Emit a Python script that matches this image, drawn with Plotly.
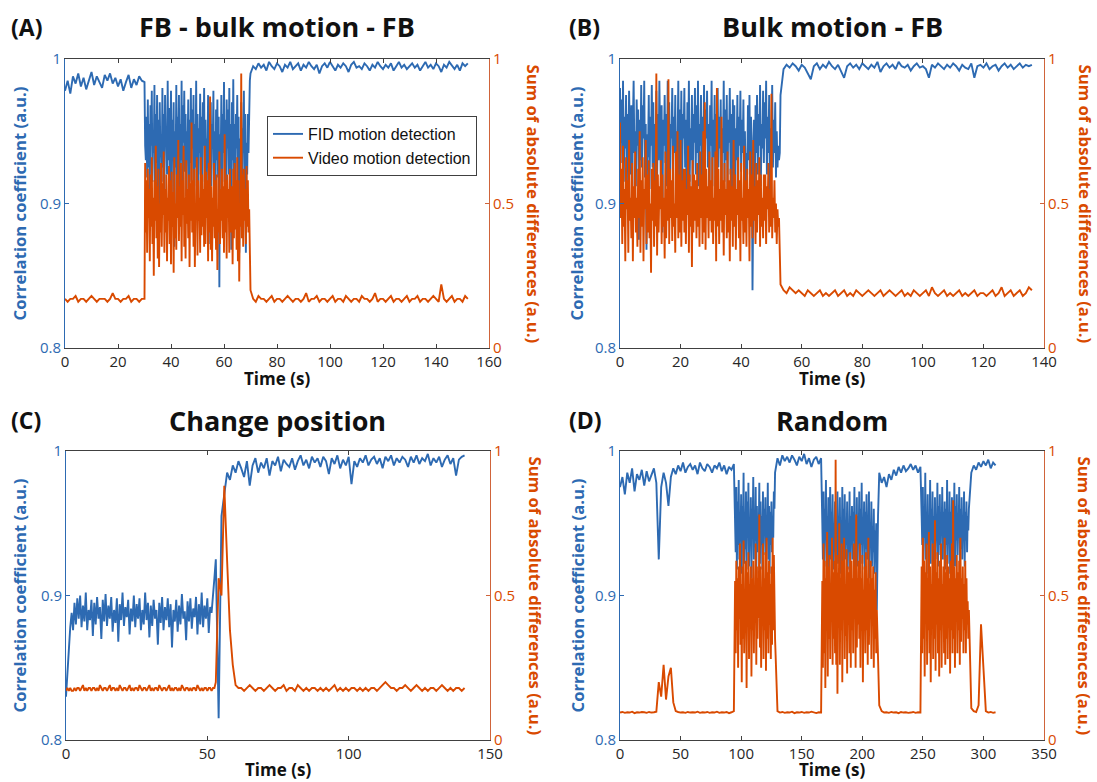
import numpy as np
import plotly.graph_objects as go

# ---------------- data ----------------
# corr_* : correlation coefficient in units of 0.001
# sad_*  : sum of absolute differences in units of 0.01 (panel D: 0.001)


def grid(start, stop, step):
    """sample times of one acquisition segment (inclusive)"""
    return list(np.round(np.arange(start, stop + step / 2, step), 3))


# Panel A: FB - bulk motion - FB
time_a = grid(0, 30, 1) + grid(30.25, 69.75, 0.25) + grid(70, 152, 1)
corr_a = [978, 985, 976, 988, 983, 990, 981, 987, 979, 986,
          991, 982, 988, 984, 980, 989, 985, 990, 983, 987,
          981, 986, 978, 984, 989, 980, 986, 982, 988, 985, 984,
          # motion (0.25 s)
          940, 930, 960, 918, 972, 925, 955, 905, 968, 940,
          978, 915, 950, 935, 982, 900, 962, 928, 975, 910,
          958, 888, 970, 932, 948, 915, 980, 925, 962, 902,
          975, 940, 952, 920, 985, 930, 966, 912, 945, 978,
          900, 958, 935, 970, 870, 950, 925, 982, 918, 960,
          940, 975, 895, 955, 930, 985, 910, 968, 942, 978,
          922, 962, 905, 950, 935, 972, 880, 958, 928, 980,
          915, 965, 938, 975, 898, 955, 925, 985, 912, 962,
          890, 952, 935, 976, 920, 960, 908, 970, 940, 980,
          915, 958, 898, 945, 932, 975, 872, 962, 925, 970,
          912, 955, 938, 978, 902, 950, 885, 965, 930, 972,
          918, 960, 842, 948, 928, 975, 905, 962, 935, 984,
          915, 958, 892, 972, 938, 965, 920, 980, 905, 955,
          868, 970, 930, 986, 912, 955, 900, 962, 938, 975,
          925, 960, 866, 945, 918, 970, 908, 952, 935, 978,
          900, 962, 866, 942, 920, 962, 935, 975, 985,
          # after motion
          990, 995, 993, 997, 994, 996, 992, 998, 995, 993,
          997, 995, 991, 996, 994, 998, 993, 995, 997, 992,
          996, 994, 998, 995, 993, 996, 990, 995, 997, 994,
          998, 995, 992, 996, 994, 997, 995, 991, 996, 998,
          994, 995, 993, 997, 995, 992, 996, 994, 998, 995,
          993, 996, 994, 997, 992, 995, 998, 994, 996, 993,
          995, 997, 994, 996, 992, 995, 998, 994, 996, 993,
          997, 995, 991, 996, 994, 998, 995, 993, 996, 992,
          997, 995, 997]
sad_a = [17, 16, 17, 17, 18, 16, 17, 17, 16, 17,
         18, 17, 16, 17, 17, 17, 16, 17, 19, 17,
         17, 16, 17, 17, 18, 16, 17, 17, 16, 17, 17,
         # motion (0.25 s)
         64, 40, 58, 33, 62, 45, 55, 30, 60, 42,
         66, 36, 52, 25, 58, 44, 70, 38, 56, 31,
         62, 28, 50, 40, 64, 35, 57, 46, 68, 33,
         55, 40, 60, 30, 52, 44, 63, 36, 58, 29,
         61, 42, 54, 26, 66, 38, 50, 34, 60, 45,
         72, 37, 56, 42, 64, 30, 58, 46, 70, 35,
         52, 31, 65, 43, 55, 38, 60, 28, 57, 44,
         78, 40, 58, 35, 62, 28, 50, 45, 66, 32,
         58, 44, 52, 33, 66, 39, 60, 42, 55, 35,
         70, 36, 61, 45, 58, 30, 64, 40, 87, 34,
         56, 30, 52, 42, 64, 38, 58, 34, 60, 27,
         48, 40, 68, 36, 55, 44, 62, 38, 56, 33,
         74, 40, 58, 31, 60, 45, 55, 33, 62, 40,
         45, 56, 29, 62, 38, 64, 41, 58, 34, 66,
         30, 58, 23, 50, 42, 95, 38, 60, 35, 62,
         44, 55, 36, 63, 42, 58, 40, 48, 30,
         # after motion
         20, 17, 16, 18, 17, 17, 16, 17, 18, 16,
         17, 17, 16, 17, 18, 17, 16, 17, 17, 16,
         17, 19, 16, 17, 17, 18, 16, 17, 17, 16,
         17, 18, 16, 17, 17, 16, 18, 17, 16, 17,
         17, 16, 18, 17, 17, 16, 17, 19, 16, 17,
         17, 16, 17, 18, 16, 17, 17, 16, 17, 18,
         16, 17, 17, 18, 16, 17, 17, 16, 17, 18,
         17, 16, 22, 17, 16, 17, 18, 16, 17, 17,
         16, 18, 17]

# Panel B: Bulk motion - FB
time_b = grid(0, 52.75, 0.25) + grid(53, 136, 1)
corr_b = [980, 942, 972, 928, 985, 915, 960, 938, 975, 905,
          962, 930, 978, 945, 920, 968, 890, 955, 985, 935,
          950, 912, 972, 940, 965, 875, 958, 930, 982, 925,
          968, 945, 985, 918, 955, 868, 948, 932, 975, 910,
          960, 940, 982, 925, 970, 900, 955, 938, 978, 915,
          962, 930, 985, 945, 920, 968, 880, 958, 940, 975,
          928, 962, 912, 985, 938, 970, 905, 955, 945, 980,
          922, 960, 935, 975, 900, 950, 940, 985, 915, 965,
          932, 978, 908, 962, 945, 980, 925, 958, 895, 970,
          938, 985, 915, 952, 930, 975, 905, 962, 942, 980,
          920, 968, 935, 985, 912, 955, 940, 975, 900, 960,
          930, 982, 918, 965, 945, 978, 925, 955, 888, 968,
          940, 985, 912, 958, 932, 975, 905, 962, 945, 980,
          925, 960, 938, 972, 898, 952, 935, 985, 915, 965,
          930, 975, 910, 958, 942, 980, 920, 962, 895, 972,
          938, 968, 888, 952, 930, 975, 915, 960, 940, 978,
          922, 958, 935, 972, 905, 950, 905, 935, 920, 968,
          930, 975, 912, 960, 945, 840, 918, 958, 902, 968,
          935, 975, 920, 962, 940, 982, 912, 955, 938, 978,
          928, 970, 945, 985, 920, 960, 935, 975, 910, 952,
          940, 982, 925, 958, 935, 970, 918, 950, 925, 940,
          930, 935,
          # after motion
          975, 993, 996, 994, 997, 995, 992,
          996, 994, 990, 986, 995, 997, 993, 996, 994, 998,
          995, 993, 996, 992, 987, 995, 997, 994, 996, 993,
          997, 995, 993, 996, 994, 998, 991, 995, 997, 994,
          996, 993, 998, 995, 994, 996, 992, 995, 997, 994,
          995, 993, 987, 996, 994, 997, 995, 993, 996, 994,
          997, 995, 992, 996, 994, 993, 997, 987, 995, 996,
          994, 997, 993, 995, 996, 992, 995, 997, 994, 996,
          993, 995, 997, 994, 996, 995, 996]
sad_b = [78, 45, 62, 36, 70, 42, 55, 30, 66, 48,
         58, 33, 72, 44, 52, 38, 64, 30, 56, 45,
         68, 40, 52, 35, 62, 45, 75, 33, 58, 42,
         66, 30, 55, 48, 72, 36, 60, 40, 65, 38,
         50, 26, 62, 44, 64, 35, 58, 42, 95, 32,
         60, 40, 56, 48, 65, 36, 60, 42, 52, 31,
         68, 38, 55, 44, 93, 36, 62, 45, 58, 37,
         70, 42, 50, 33, 68, 45, 75, 38, 60, 40,
         72, 35, 58, 44, 62, 40, 62, 36, 55, 46,
         70, 33, 60, 42, 56, 28, 65, 40, 60, 44,
         58, 38, 64, 42, 55, 35, 68, 45, 60, 36,
         75, 40, 85, 34, 62, 45, 56, 38, 68, 44,
         58, 40, 66, 36, 52, 44, 68, 30, 90, 42,
         62, 36, 55, 44, 80, 40, 58, 32, 64, 46,
         55, 38, 68, 40, 58, 30, 62, 44, 56, 35,
         72, 42, 60, 34, 55, 46, 66, 38, 58, 30,
         64, 44, 52, 36, 70, 40, 58, 35, 62, 45,
         55, 30, 68, 42, 60, 38, 72, 44, 56, 36,
         64, 40, 58, 46, 66, 35, 60, 42, 52, 38,
         60, 44, 60, 36, 56, 48, 64, 40, 55, 42,
         88, 38, 52, 45, 58, 40, 50, 36, 48, 42,
         45, 30,
         # after motion
         22, 20, 19, 21, 20, 19, 20,
         19, 18, 20, 19, 18, 19, 20, 18, 19, 18,
         19, 20, 18, 19, 20, 18, 19, 18, 20, 19,
         18, 19, 20, 19, 18, 19, 20, 18, 19, 20,
         19, 18, 19, 20, 18, 19, 18, 20, 19, 18,
         19, 20, 18, 21, 19, 18, 19, 20, 18, 19,
         18, 19, 20, 18, 19, 18, 19, 20, 18, 19,
         19, 18, 19, 20, 18, 19, 21, 18, 19, 20,
         18, 19, 20, 18, 19, 21, 20]

# Panel C: Change position
time_c = grid(0, 52.5, 0.5) + grid(53, 141, 1)
corr_c = [830, 850, 862, 878, 888, 876, 895, 880, 898, 884,
          900, 878, 893, 882, 902, 876, 890, 883, 897, 872,
          895, 880, 899, 884, 892, 870, 897, 882, 901, 879,
          893, 884, 899, 875, 890, 881, 898, 868, 894, 883,
          902, 879, 892, 885, 897, 873, 891, 882, 900, 878,
          894, 884, 898, 876, 890, 880, 902, 883, 895, 871,
          893, 879, 897, 884, 890, 866, 895, 881, 899, 876,
          892, 883, 898, 878, 894, 864, 890, 882, 897, 875,
          893, 880, 901, 884, 889, 869, 896, 882, 898, 877,
          891, 885, 899, 873, 894, 880, 902, 878, 893, 884,
          898, 874, 892, 888, 904, 912,
          # position change and after
          925, 815, 955, 970, 985, 980, 990,
          985, 993, 988, 982, 993, 976, 990, 995, 985, 992,
          988, 995, 983, 993, 990, 996, 986, 994, 991, 989,
          995, 987, 993, 997, 990, 994, 988, 996, 992, 995,
          989, 996, 993, 984, 995, 991, 997, 988, 994, 990,
          996, 977, 993, 989, 995, 992, 997, 990, 994, 996,
          991, 995, 988, 996, 993, 997, 990, 995, 992, 996,
          994, 989, 996, 992, 997, 991, 995, 993, 998, 990,
          995, 992, 996, 989, 994, 997, 991, 995, 983, 994,
          996, 997]
sad_c = [17, 18, 17, 18, 17, 17, 18, 17, 18, 18,
         17, 18, 19, 17, 18, 17, 18, 18, 17, 18,
         18, 17, 18, 17, 19, 18, 17, 18, 18, 17,
         18, 19, 17, 18, 18, 17, 18, 17, 19, 18,
         17, 18, 18, 17, 18, 19, 17, 18, 17, 18,
         18, 17, 19, 18, 17, 18, 18, 17, 18, 19,
         17, 18, 17, 18, 18, 17, 19, 18, 17, 18,
         18, 17, 18, 19, 17, 18, 17, 18, 18, 17,
         18, 17, 19, 18, 17, 18, 18, 17, 18, 17,
         18, 18, 17, 19, 18, 17, 18, 17, 18, 18,
         17, 18, 18, 17, 18, 18,
         # position change and after
         20, 56, 50, 88, 62, 38, 26,
         19, 18, 18, 17, 18, 19, 18, 17, 18, 18,
         17, 18, 19, 18, 17, 18, 18, 19, 17, 18,
         18, 17, 19, 18, 17, 18, 17, 18, 18, 17,
         18, 17, 18, 17, 18, 19, 17, 18, 17, 18,
         17, 18, 18, 17, 18, 17, 18, 17, 18, 18,
         17, 18, 19, 20, 19, 18, 18, 17, 18, 18,
         19, 18, 17, 18, 19, 18, 17, 18, 17, 18,
         18, 17, 18, 19, 18, 17, 18, 17, 18, 18,
         17, 18]

# Panel D: Random
time_d = (grid(0, 94, 2) + grid(95, 128, 0.5) + grid(130, 166, 2)
          + grid(167, 213, 0.5) + grid(214, 248, 2) + grid(249, 288, 0.5)
          + grid(290, 310, 2))
corr_d = [975, 982, 970, 985, 978, 988, 972, 984, 980, 987,
          976, 986, 979, 983, 988, 978, 925, 975, 985, 978,
          962, 982, 988, 984, 990, 986, 992, 985, 989, 991,
          987, 990, 984, 992, 988, 986, 991, 989, 985, 990,
          988, 992, 986, 990, 984, 989, 987, 991,
          # motion 1
          960, 930, 975, 918, 965, 935, 980, 925, 955, 940,
          970, 915, 962, 938, 985, 922, 958, 932, 972, 918,
          965, 940, 978, 920, 952, 935, 968, 912, 960, 945,
          982, 925, 958, 938, 975, 915, 962, 930, 950, 940,
          978, 922, 965, 935, 955, 918, 972, 928, 960, 942,
          968, 920, 955, 938, 978, 925, 962, 915, 958, 935,
          965, 930, 950, 940, 972, 960, 985,
          995, 990, 997, 993, 996, 992, 997, 994, 990, 996,
          993, 998, 991, 995, 989, 994, 996, 991, 995,
          # motion 2
          950, 925, 972, 915, 960, 940, 980, 920, 955, 932,
          968, 910, 945, 975, 925, 958, 938, 970, 918, 950,
          930, 965, 912, 948, 935, 972, 922, 955, 940, 968,
          915, 952, 930, 975, 920, 960, 938, 970, 925, 950,
          935, 965, 918, 945, 930, 972, 912, 955, 940, 962,
          925, 958, 938, 975, 915, 950, 932, 968, 920, 955,
          940, 972, 915, 960, 935, 978, 922, 952, 938, 965,
          918, 958, 932, 970, 925, 955, 940, 972, 912, 950,
          935, 965, 920, 948, 930, 960, 915, 945, 928, 950,
          890, 930, 955,
          985, 978, 982, 975, 984, 980, 987, 983, 989, 985,
          990, 986, 988, 991, 987, 990, 985, 989,
          # motion 3
          955, 935, 975, 920, 962, 940, 985, 925, 958, 935,
          970, 915, 950, 938, 980, 922, 960, 940, 972, 918,
          955, 932, 968, 925, 950, 940, 978, 920, 962, 935,
          970, 928, 955, 942, 975, 925, 958, 938, 965, 918,
          960, 935, 980, 922, 952, 940, 972, 915, 958, 932,
          968, 925, 955, 945, 978, 920, 962, 938, 970, 928,
          955, 940, 975, 918, 960, 932, 968, 925, 950, 942,
          972, 920, 958, 938, 965, 930, 955, 945, 960,
          985, 990, 987, 992, 989, 993, 990, 994, 988, 992, 990]
sad_d = [95, 97, 94, 96, 95, 98, 93, 96, 95, 97,
         96, 94, 97, 95, 96, 98, 200, 150, 260, 140,
         220, 250, 130, 100, 97, 95, 96, 94, 97, 95,
         96, 95, 98, 94, 96, 95, 97, 94, 96, 95,
         98, 94, 96, 95, 97, 93, 96, 100,
         # motion 1
         550, 300, 620, 380, 560, 250, 600, 420, 680, 330,
         540, 200, 600, 350, 690, 300, 480, 380, 620, 180,
         580, 400, 650, 280, 540, 450, 600, 220, 560, 380,
         620, 300, 520, 430, 680, 260, 600, 350, 560, 420,
         780, 320, 600, 250, 520, 430, 680, 280, 560, 380,
         650, 240, 700, 350, 580, 300, 620, 400, 540, 280,
         600, 330, 700, 380, 640, 450, 350,
         100, 95, 97, 94, 96, 95, 98, 93, 96, 95,
         97, 94, 96, 95, 98, 95, 93, 96, 95,
         # motion 2
         550, 250, 680, 300, 620, 180, 560, 400, 720, 220,
         600, 350, 640, 280, 540, 420, 700, 260, 580, 350,
         620, 300, 970, 260, 640, 160, 580, 420, 750, 260,
         560, 380, 680, 200, 620, 450, 700, 280, 540, 360,
         660, 230, 600, 400, 580, 300, 650, 250, 620, 380,
         560, 300, 680, 420, 600, 250, 780, 320, 560, 400,
         620, 350, 680, 250, 560, 380, 640, 200, 520, 430,
         600, 300, 650, 380, 560, 260, 700, 330, 540, 420,
         620, 280, 560, 400, 600, 250, 520, 350, 580, 300,
         450, 380, 300,
         120, 100, 95, 96, 94, 97, 95, 96, 93, 97,
         95, 96, 94, 95, 97, 94, 96, 95,
         # motion 3
         600, 300, 700, 350, 620, 220, 580, 420, 680, 260,
         560, 380, 720, 300, 600, 200, 540, 420, 680, 280,
         620, 350, 760, 240, 580, 400, 650, 300, 560, 220,
         620, 380, 680, 250, 540, 420, 600, 300, 700, 260,
         580, 350, 640, 280, 600, 400, 560, 230, 620, 380,
         680, 300, 830, 350, 600, 250, 560, 420, 640, 300,
         580, 380, 620, 260, 700, 340, 560, 420, 600, 300,
         540, 380, 620, 300, 560, 400, 480, 350, 450,
         110, 100, 97, 120, 400, 250, 100, 95, 97, 94, 96]

value_scale_corr = [1000.0, 1000.0, 1000.0, 1000.0]
value_scale_sad = [100.0, 100.0, 100.0, 1000.0]

titles = ["FB - bulk motion - FB", "Bulk motion - FB", "Change position", "Random"]
panel_tags = ["(A)", "(B)", "(C)", "(D)"]
x_max = [160, 140, 150, 350]
x_ticks = [[0, 20, 40, 60, 80, 100, 120, 140, 160],
           [0, 20, 40, 60, 80, 100, 120, 140],
           [0, 50, 100, 150],
           [0, 50, 100, 150, 200, 250, 300, 350]]
left_ticks = [0.8, 0.9, 1.0]
left_tick_text = ["0.8", "0.9", "1"]
right_ticks = [0, 0.5, 1]
right_tick_text = ["0", "0.5", "1"]
series_names = ["FID motion detection", "Video motion detection"]
x_title = "Time (s)"
left_title = "Correlation coefficient (a.u.)"
right_title = "Sum of absolute differences (a.u.)"

times = [time_a, time_b, time_c, time_d]
corr_series = [corr_a, corr_b, corr_c, corr_d]
sad_series = [sad_a, sad_b, sad_c, sad_d]
for tt, cc, ss in zip(times, corr_series, sad_series):
    assert len(tt) == len(cc) == len(ss), (len(tt), len(cc), len(ss))

# ---------------- styling ----------------
W, H = 1097, 782
BLUE = "#2D6AB2"
ORANGE = "#D94A00"
ORANGE_AX = "#D0643A"
DARK = "#262626"
AXGREY = "#404040"
FONT = "Open Sans"
LEGEND_FONT = "Liberation Sans"
LW = 1.9

# plot boxes in pixels: (left, right, top, bottom)
boxes = [(65, 489, 59, 348), (620, 1044, 59, 348),
         (66, 490, 451, 740), (620, 1044, 451, 740)]
tag_pos = [(10, 27), (568, 27), (10, 420), (568, 420)]
title_y = [27, 27, 420, 420]
xtitle_y = [379, 379, 769, 769]
ltitle_x = [19, 576, 19, 577]
rtitle_x = [533, 1085, 535, 1084]


def fx(p):
    return p / W


def fy(p):
    return 1 - p / H


fig = go.Figure()
layout = dict(width=W, height=H, autosize=False,
              margin=dict(l=0, r=0, t=0, b=0, pad=0),
              paper_bgcolor="white", plot_bgcolor="white",
              font=dict(family=FONT, color=DARK), showlegend=True)
annotations = []

for i in range(4):
    n = i + 1
    xa = "x" if n == 1 else f"x{n}"
    yl_n = 2 * i + 1
    yr_n = 2 * i + 2
    yl = "y" if yl_n == 1 else f"y{yl_n}"
    yr = f"y{yr_n}"
    L, R, T, B = boxes[i]

    t = np.array(times[i], dtype=float)
    corr = np.array(corr_series[i]) / value_scale_corr[i]
    sad = np.array(sad_series[i]) / value_scale_sad[i]

    fig.add_trace(go.Scatter(x=t, y=corr, xaxis=xa, yaxis=yl, mode="lines",
                             line=dict(color=BLUE, width=LW),
                             name=series_names[0], showlegend=(i == 0),
                             legendgroup="fid"))
    fig.add_trace(go.Scatter(x=t, y=sad, xaxis=xa, yaxis=yr, mode="lines",
                             line=dict(color=ORANGE, width=LW),
                             name=series_names[1], showlegend=(i == 0),
                             legendgroup="video"))

    xkey = "xaxis" if n == 1 else f"xaxis{n}"
    ylkey = "yaxis" if yl_n == 1 else f"yaxis{yl_n}"
    yrkey = f"yaxis{yr_n}"
    layout[xkey] = dict(domain=[fx(L), fx(R)], anchor=yl, range=[0, x_max[i]],
                        tickmode="array", tickvals=x_ticks[i],
                        ticktext=[str(v) for v in x_ticks[i]],
                        ticks="inside", ticklen=4, tickcolor=AXGREY,
                        showline=True, linecolor=AXGREY, linewidth=1,
                        mirror="ticks", showgrid=False, zeroline=False,
                        automargin=False,
                        tickfont=dict(family=FONT, size=15, color=DARK))
    layout[ylkey] = dict(domain=[fy(B), fy(T)], anchor=xa, range=[0.8, 1.0],
                         tickmode="array", tickvals=left_ticks,
                         ticktext=left_tick_text,
                         ticks="inside", ticklen=4, tickcolor=BLUE,
                         showline=True, linecolor=BLUE, linewidth=1,
                         showgrid=False, zeroline=False, automargin=False,
                         tickfont=dict(family=FONT, size=15, color=BLUE))
    layout[yrkey] = dict(overlaying=yl, side="right", anchor=xa, range=[0, 1],
                         tickmode="array", tickvals=right_ticks,
                         ticktext=right_tick_text,
                         ticks="inside", ticklen=4, tickcolor=ORANGE_AX,
                         showline=True, linecolor=ORANGE_AX, linewidth=1,
                         showgrid=False, zeroline=False, automargin=False,
                         tickfont=dict(family=FONT, size=15, color=ORANGE))

    cx = fx((L + R) / 2)
    cy = fy((T + B) / 2)
    annotations += [
        dict(text=f"<b>{panel_tags[i]}</b>", x=fx(tag_pos[i][0]), y=fy(tag_pos[i][1]),
             xref="paper", yref="paper", xanchor="left", yanchor="middle",
             showarrow=False, borderpad=0,
             font=dict(family=FONT, size=23, color="#111111")),
        dict(text=f"<b>{titles[i]}</b>", x=cx, y=fy(title_y[i]),
             xref="paper", yref="paper", xanchor="center", yanchor="middle",
             showarrow=False, borderpad=0,
             font=dict(family=FONT, size=27, color="#111111")),
        dict(text=f"<b>{x_title}</b>", x=cx, y=fy(xtitle_y[i]),
             xref="paper", yref="paper", xanchor="center", yanchor="middle",
             showarrow=False, borderpad=0,
             font=dict(family=FONT, size=17, color="#111111")),
        dict(text=f"<b>{left_title}</b>", x=fx(ltitle_x[i]), y=cy, textangle=-90,
             xref="paper", yref="paper", xanchor="center", yanchor="middle",
             showarrow=False, borderpad=0,
             font=dict(family=FONT, size=16.7, color=BLUE)),
        dict(text=f"<b>{right_title}</b>", x=fx(rtitle_x[i]), y=cy, textangle=90,
             xref="paper", yref="paper", xanchor="center", yanchor="middle",
             showarrow=False, borderpad=0,
             font=dict(family=FONT, size=16.7, color=ORANGE)),
    ]

layout["annotations"] = annotations
layout["legend"] = dict(x=fx(267), y=fy(116), xanchor="left", yanchor="top",
                        bgcolor="white", bordercolor=AXGREY, borderwidth=1,
                        font=dict(family=LEGEND_FONT, size=16, color="#111111"),
                        itemwidth=30, tracegroupgap=0)
fig.update_layout(**layout)

fig.write_html("out.html",
               config={"displayModeBar": False},
               post_script="document.documentElement.style.margin='0';"
                           "document.documentElement.style.overflow='hidden';"
                           "document.body.style.margin='0';"
                           "document.body.style.overflow='hidden';")
